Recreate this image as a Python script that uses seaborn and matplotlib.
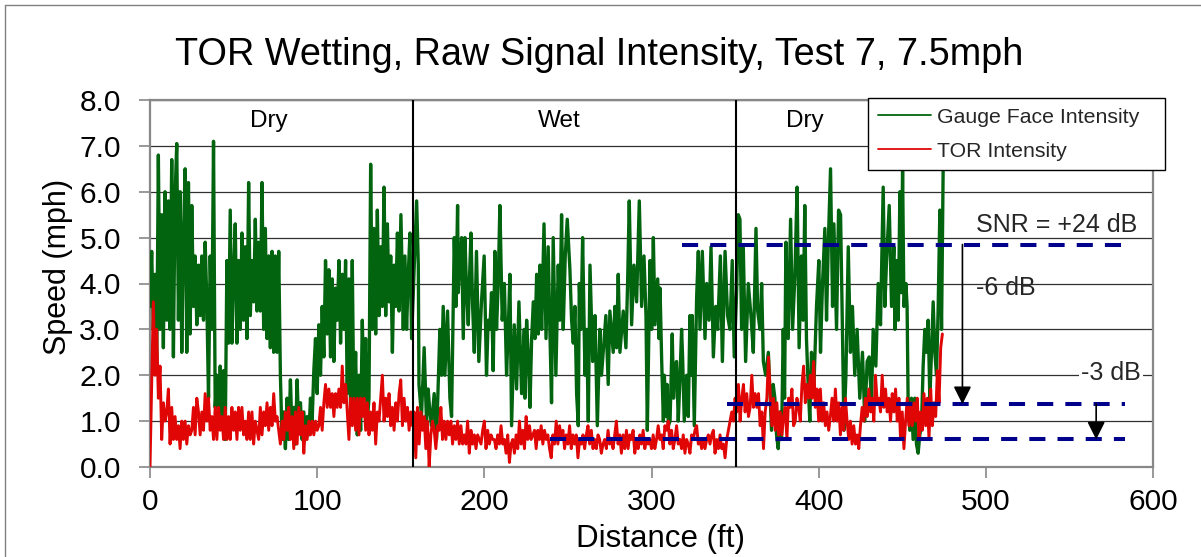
import numpy as np
import matplotlib
matplotlib.use("Agg")
import matplotlib.pyplot as plt
import seaborn as sns
from matplotlib.lines import Line2D

# ---------------- data ----------------
TITLE = "TOR Wetting, Raw Signal Intensity, Test 7, 7.5mph"
x_ticks = [0, 100, 200, 300, 400, 500, 600]
y_ticks = [0.0, 1.0, 2.0, 3.0, 4.0, 5.0, 6.0, 7.0, 8.0]

# Gauge face intensity, 0-149 ft, one reading per ft
gauge_a = [3.5,4.7,3.0,4.2,2.2,6.8,3.0,5.5,2.6,6.0, 3.2,5.8,3.0,6.7,2.4,5.9,7.05,3.2,6.0,2.5,
           5.0,6.5,2.5,6.2,2.9,5.7,3.5,4.6,3.1,4.4, 3.3,4.6,3.2,4.9,3.6,1.5,4.6,3.0,7.1,1.3,
           2.0,0.9,2.2,1.0,2.1,0.6,4.5,2.7,5.6,2.7, 4.2,5.3,2.7,4.5,3.0,5.1,3.2,4.8,2.8,6.2,
           3.3,4.5,3.6,5.4,3.4,4.9,3.4,6.2,3.0,5.2, 2.8,4.6,2.6,4.7,2.5,4.6,
           2.5,4.7,2.0,0.6,1.2,0.4,1.5,0.6,1.9,0.7, 1.3,0.5,1.9,0.8,1.4,0.6,1.2,0.6,1.1,0.7,
           1.5,1.0,2.1,2.8,1.6,3.1,2.0,3.5,2.4,4.5, 2.9,4.3,2.4,4.1,2.3,3.9,3.2,4.5,2.7,4.2,
           3.0,4.5,1.6,4.1,1.2,4.5,1.0,2.5,0.7,2.0, 0.8,3.2,1.5,2.8,1.0,1.5,6.6,3.0,5.2,2.9,
           5.6,3.3,4.8,3.5,6.1,3.3,5.3,3.6,4.6,2.5, 4.4,3.5,5.1,3.4]

# Gauge face intensity, 150-475 ft, (ft, value) readings
gauge_b = [
    (150.1,5.5),(151.5,3.0),(152.5,4.6),(153.5,3.0),(154.5,4.2),(155.5,5.1),(156.5,2.8),(158.5,4.8),
    (159.5,5.8),(160.5,4.4),(160.9,1.8),(162.4,1.1),(164.0,2.6),(165.4,1.0),(166.4,1.7),(167.4,1.2),
    (168.4,0.9),(170.0,1.6),(171.4,0.6),(172.4,1.8),(173.4,3.0),(174.4,2.0),(175.4,3.5),(176.4,2.0),
    (178.0,3.4),(179.4,1.5),(180.4,1.1),(181.2,3.0),(182.0,5.0),(183.0,3.5),(184.0,5.7),(184.4,3.8),
    (185.4,4.5),(186.4,5.0),(187.4,2.8),(188.4,5.0),(189.4,3.8),(190.4,3.1),(191.2,4.2),(192.0,5.1),
    (193.0,3.5),(194.0,2.5),(195.3,4.7),(196.7,2.3),(198.3,3.6),(199.9,4.6),(201.3,2.0),(202.3,3.2),
    (203.3,3.0),(204.3,3.8),(205.3,2.1),(206.3,4.7),(207.3,3.0),(208.3,4.0),(209.3,5.7),(210.7,3.2),
    (212.0,4.0),(213.3,2.0),(214.3,3.0),(215.3,4.2),(216.3,0.9),(217.9,3.1),(219.3,1.7),(220.7,3.6),
    (222.3,1.6),(223.9,3.0),
    (224.3,1.5),(225.3,3.2),(226.3,2.4),(227.3,1.3),(228.3,2.8),(229.3,3.6),(230.3,2.8),(231.3,4.2),
    (232.3,2.9),(233.3,4.4),(234.3,3.0),(235.7,5.3),(236.9,2.8),(238.2,4.8),(239.2,3.0),(240.2,1.4),
    (241.2,5.0),(242.8,2.0),(244.2,4.4),(245.2,3.2),(246.2,5.5),(247.2,3.0),(248.4,4.6),(249.6,5.4),
    (251.2,4.3),(252.2,3.2),(253.2,2.7),(254.2,3.5),(255.2,1.6),(256.2,0.9),(256.8,4.0),(257.8,3.0),
    (258.8,5.0),(260.2,2.0),(261.2,3.0),(262.2,1.0),(263.2,4.4),(264.8,2.3),(266.2,3.3),(267.6,0.9),
    (269.1,3.0),(270.1,2.0),(271.1,2.5),(272.7,3.3),(274.1,1.8),(275.1,3.4),(277.1,2.5),(278.1,3.5),
    (279.1,2.6),(280.1,4.2),(281.1,2.5),(283.1,3.4),(284.7,2.6),(285.7,4.0),(286.7,5.8),(288.1,3.1),
    (289.5,4.4),(291.1,3.6),(292.7,5.8),(294.1,3.5),(295.5,4.6),(296.7,3.3),(297.5,0.8),
    (299.1,4.5),(300.1,3.0),(301.1,5.0),(302.1,3.1),(303.7,4.1),(304.5,2.8),(305.1,3.9),(306.1,2.3),
    (307.1,1.0),(307.7,2.0),(308.5,1.1),(309.3,1.8),(310.1,0.9),(311.1,1.0),(312.4,2.9),(313.2,1.5),
    (314.0,2.2),(315.0,2.3),(316.0,1.0),(317.0,1.9),(318.0,3.0),(318.6,2.4),(319.6,1.0),(321.0,2.0),
    (322.0,1.1),(323.0,3.3),(323.6,2.0),(324.4,3.3),(325.6,0.9),(327.0,3.7),(328.0,4.7),(329.0,3.0),
    (330.4,4.7),(332.0,2.8),(333.0,4.0),(334.4,3.2),(335.6,4.8),(337.0,2.4),(338.4,3.5),(339.6,3.0),
    (341.2,4.6),(342.4,2.3),(344.0,4.7),(345.5,3.3),(346.9,3.0),(348.3,4.5),(349.5,2.4),(350.9,3.8),
    (351.9,5.5),(352.9,5.4),(353.9,3.0),(354.9,4.8),(356.3,2.3),(357.9,4.0),(359.5,3.3),(360.9,2.5),
    (362.5,5.2),(363.5,3.4),(364.9,3.0),(365.9,4.0),(366.9,2.3),(368.3,2.0),(369.9,2.5),
    (371.8,0.8),(372.8,1.8),(373.8,1.5),(374.8,0.7),(375.8,0.4),(376.8,1.2),(377.8,0.6),(378.8,3.0),
    (379.6,1.5),(380.4,4.9),(381.8,2.8),(383.2,5.4),(384.4,3.0),(385.8,4.2),(387.1,6.1),(388.3,2.6),
    (389.7,4.6),(390.7,3.2),(391.7,5.7),(392.7,2.8),(393.7,1.8),(394.7,1.0),(395.7,2.5),(397.1,1.7),
    (398.7,3.5),(400.1,4.5),(401.1,2.5),(402.3,4.0),(403.7,5.2),(404.7,3.2),(405.7,4.8),(407.1,6.5),
    (408.3,3.5),(409.1,5.3),(410.7,3.0),(411.9,5.6),(413.1,5.5),(414.3,2.8),(415.1,0.8),(416.3,2.0),
    (417.7,4.8),(419.0,2.5),(420.2,3.5),(421.6,2.0),(423.0,3.0),(424.6,1.5),(426.2,2.5),(427.6,1.0),
    (429.0,2.3),(430.2,2.4),(431.6,1.4),(432.6,3.0),(434.2,2.2),(435.6,4.0),(437.0,3.1),(438.6,6.1),
    (439.6,3.5),(440.6,4.5),(442.2,5.7),(443.6,3.5),(445.0,4.8),
    (445.6,3.0),(446.6,4.5),(447.6,3.2),(448.6,6.0),(449.4,3.8),(450.2,6.5),(451.0,3.5),(452.2,4.0),
    (452.9,3.5),(453.5,1.5),(454.5,0.8),(455.5,1.5),(456.5,0.6),(457.5,1.5),(458.5,0.5),(459.5,0.3),
    (460.5,0.7),(461.5,0.9),(462.5,2.2),(463.5,3.0),(464.5,2.5),(465.5,3.2),(466.5,1.5),(467.5,2.5),
    (468.5,3.6),(469.5,2.5),(470.5,2.0),(471.5,3.5),(472.5,5.6),(473.5,3.0),(474.5,6.6)]

# TOR intensity, one reading per ft from 0 ft
tor = [0.0,1.8,3.6,2.0,3.0,1.5,2.2,0.6,1.4,1.0, 1.2,1.7,0.5,1.3,0.6,1.1,0.6,0.9,0.4,1.0,
       0.6,1.0,0.5,0.9,0.7,0.8,1.3,0.7,1.5,1.2, 0.7,1.2,0.8,1.6,1.0,1.5,0.8,1.1,0.6,1.3,
       0.6,1.3,0.8,1.1,0.6,1.3,0.6,1.1,0.6,1.3, 0.8,1.2,0.6,1.3,0.8,1.3,0.7,1.0,0.6,1.2,
       0.6,1.2,0.5,1.0,0.8,0.6,1.3,0.7,1.2,0.9, 1.4,0.8,1.3,0.9,1.6,1.0,
       1.1,0.8,0.5,1.0,0.6,1.2,0.8,1.3,0.6,1.1, 0.4,1.2,0.5,1.3,0.7,1.2,0.3,0.9,0.6,1.0,
       0.7,1.0,0.7,1.0,0.8,0.9,1.3,0.8,1.4,1.8, 1.3,1.7,1.3,1.6,1.1,1.6,1.3,1.7,1.3,2.2,
       1.4,1.8,1.2,0.6,1.5,0.9,1.5,0.8,1.5,0.7, 1.5,1.1,1.5,0.8,1.4,0.7,1.2,0.8,1.4,0.5,
       1.2,1.0,1.5,2.0,1.0,1.5,1.1,1.6,0.9,1.3, 0.8,1.4,1.0,1.6,
       1.9,0.9,1.5,1.0,1.3,0.8,1.2,0.9,1.2,0.2, 1.3,0.5,1.2,0.8,1.1,0.4,1.0,0.0,0.7,1.0,
       0.8,0.4,0.9,0.8,1.3,0.6,1.0,0.6,1.0,0.7, 1.0,0.5,0.9,0.6,1.0,0.5,0.9,0.5,0.7,0.5,
       1.0,0.3,0.8,0.5,0.7,0.4,0.7,0.6,0.5,0.8, 1.0,0.4,0.8,0.5,0.7,0.6,0.6,0.4,0.7,0.5,
       0.9,0.5,0.6,0.3,0.7,0.1,0.5,0.6,0.3,0.7, 0.4,1.0,0.5,0.8,0.4,
       1.1,0.6,0.9,0.6,0.7,0.8,0.4,0.8,0.6,0.9, 0.5,0.8,0.6,0.7,0.4,0.2,0.7,0.5,1.0,0.5,
       0.9,0.6,0.8,0.4,0.7,0.5,0.9,0.4,0.7,0.5, 0.7,0.2,0.6,0.5,0.7,0.4,0.7,0.9,0.5,0.8,
       0.4,0.6,0.4,0.7,0.6,0.3,0.5,0.6,0.4,0.8, 0.5,0.6,0.4,0.7,1.0,0.5,0.7,0.3,0.7,0.4,
       0.8,0.4,0.7,0.6,0.8,0.3,0.6,0.4,0.7,0.5, 0.8,0.4,0.6,0.5,
       0.6,0.4,0.7,0.4,0.6,0.9,0.6,0.7,0.4,0.9, 0.8,1.0,0.5,0.8,0.4,0.6,0.9,0.5,0.6,0.4,
       0.7,0.3,0.6,0.5,0.3,0.7,0.6,0.8,0.9,0.5, 0.6,0.4,0.6,0.4,0.6,0.7,0.5,0.7,0.8,0.3,
       0.6,0.4,0.7,0.4,0.5,0.2,0.6,0.8,1.0,1.2, 1.0,1.5,1.2,1.8,1.0,1.5,1.8,1.2,1.6,1.1,
       1.3,2.0,1.3,1.6,1.3,1.6,0.9,1.2,0.4,1.2, 1.5,2.4,1.6,
       0.9,1.5,0.8,1.4,0.7,1.2,0.7,1.1,1.3,0.6, 1.5,1.3,1.7,0.9,1.0,1.5,1.3,1.0,1.8,2.2,
       1.4,1.8,1.5,2.0,1.5,2.3,1.3,1.7,1.0,1.7, 1.0,1.4,0.9,1.2,0.8,1.1,1.5,1.0,1.7,1.0,
       1.4,0.7,1.3,0.8,1.5,1.0,0.6,1.0,0.5,0.9, 0.5,0.7,0.4,0.9,1.3,1.0,1.5,1.1,1.7,1.2,
       1.5,1.0,2.0,1.4,
       1.5,1.2,2.0,1.3,1.7,1.2,1.5,1.0,1.6,1.2, 1.7,1.0,1.5,0.6,1.2,0.4,1.0,1.5,0.9,1.4,
       0.9,1.4,1.0,1.5,0.6,1.2,0.8,1.6,0.9,1.5, 0.6,1.7,0.9,1.4,1.1,2.1,1.4,2.6,2.9]
SAMPLE_FT = 1.0

# Test sections
section_bounds = [157.5, 350.5]
section_names = ["Dry", "Wet", "Dry"]
section_label_ft = [71, 245, 392]

# SNR reference levels (dashed) and drops
level_val = [4.85, 1.37, 0.60]
level_from = [318, 345, 239]
level_to = [583, 583, 583]
drop_ft = [486, 566]
drop_from = [4.85, 1.37]
drop_to = [1.37, 0.60]

# ---------------- style ----------------
GREEN = "#03640F"
RED = "#E00606"
NAVY = "#00008C"

sns.set_theme(style="white")
plt.rcParams["font.family"] = ["Liberation Sans", "DejaVu Sans"]

W, H = 1201, 557
fig = plt.figure(figsize=(W / 100, H / 100), dpi=100)
ax = fig.add_axes([150 / W, 1 - 467 / H, 1003 / W, 367 / H])

g_ft = np.concatenate([np.arange(len(gauge_a)), [p[0] for p in gauge_b]])
g_val = np.concatenate([gauge_a, [p[1] for p in gauge_b]])
t_ft = np.arange(len(tor)) * SAMPLE_FT

sns.lineplot(x=g_ft, y=g_val, ax=ax, color=GREEN, linewidth=2.4, estimator=None,
             sort=False, label="Gauge Face Intensity", zorder=3)
sns.lineplot(x=t_ft, y=np.array(tor), ax=ax, color=RED, linewidth=2.1, estimator=None,
             sort=False, label="TOR Intensity", zorder=4)

for b in section_bounds:
    ax.axvline(b, color="black", lw=1.5, zorder=5)

ax.hlines(level_val, level_from, level_to, colors=NAVY, linewidth=2.9,
          linestyles=[(0, (4, 3))], zorder=6)

for xf, y0, y1 in zip(drop_ft, drop_from, drop_to):
    ax.annotate("", xy=(xf, y1), xytext=(xf, y0),
                arrowprops=dict(arrowstyle="-|>", color="black", lw=1.2,
                                mutation_scale=27, shrinkA=0, shrinkB=0),
                zorder=7)

for name, xf in zip(section_names, section_label_ft):
    ax.text(xf, 7.54, name, ha="center", va="center", fontsize=17.5, color="black")

ax.text(494.4, 5.27, "SNR = +24 dB", ha="left", va="center", fontsize=18, zorder=8)
ax.text(494.4, 3.9, "-6 dB", ha="left", va="center", fontsize=18, zorder=8)
ax.text(557.2, 2.05, "-3 dB", ha="left", va="center", fontsize=18, zorder=8,
        bbox=dict(boxstyle="square,pad=0.08", fc="white", ec="none"))

ax.set_xlim(0, 600)
ax.set_ylim(0, 8)
ax.set_xticks(x_ticks)
ax.set_yticks(y_ticks)
ax.set_xticklabels([str(v) for v in x_ticks])
ax.set_yticklabels([f"{v:.1f}" for v in y_ticks])
ax.tick_params(axis="both", which="major", direction="out", length=8, width=1.2,
               color="#888888", labelsize=21.5, labelcolor="black",
               bottom=True, left=True)
ax.tick_params(axis="y", pad=13)
ax.tick_params(axis="x", pad=7)

ax.set_axisbelow(True)
ax.yaxis.grid(True, color="#303030", lw=0.9)
ax.xaxis.grid(False)
for s in ax.spines.values():
    s.set_color("#888888")
    s.set_linewidth(1.6)
ax.set_facecolor("white")

ax.set_xlabel("Distance (ft)", fontsize=22.5, color="black")
ax.set_ylabel("Speed (mph)", fontsize=22, color="black")
ax.xaxis.set_label_coords((661 - 150) / 1003, (467 - 524) / 367)
ax.yaxis.set_label_coords((73 - 150) / 1003, (467 - 267) / 367)

fig.text(599 / W, 1 - 55 / H, TITLE, ha="center", va="center", fontsize=27.3, color="black")

leg = ax.legend(loc="upper left", bbox_to_anchor=(868 / W, 1 - 166 / H, 297 / W, 68 / H),
                bbox_transform=fig.transFigure, mode="expand", fontsize=15.3, frameon=True,
                fancybox=False, edgecolor="black", framealpha=1, handlelength=2.5,
                borderaxespad=0, labelspacing=0.72, borderpad=0.45, handletextpad=0.3)
leg.get_frame().set_linewidth(1.0)
leg.set_zorder(10)
for ln in leg.get_lines():
    ln.set_linewidth(1.3)

# outer chart border (top and left edges visible in the reference)
fig.add_artist(Line2D([5 / W, 1], [1 - 5 / H, 1 - 5 / H], transform=fig.transFigure,
                      color="#808080", lw=1.0))
fig.add_artist(Line2D([5 / W, 5 / W], [0, 1 - 5 / H], transform=fig.transFigure,
                      color="#808080", lw=1.0))

fig.savefig("out.png", dpi=100, facecolor="white")
